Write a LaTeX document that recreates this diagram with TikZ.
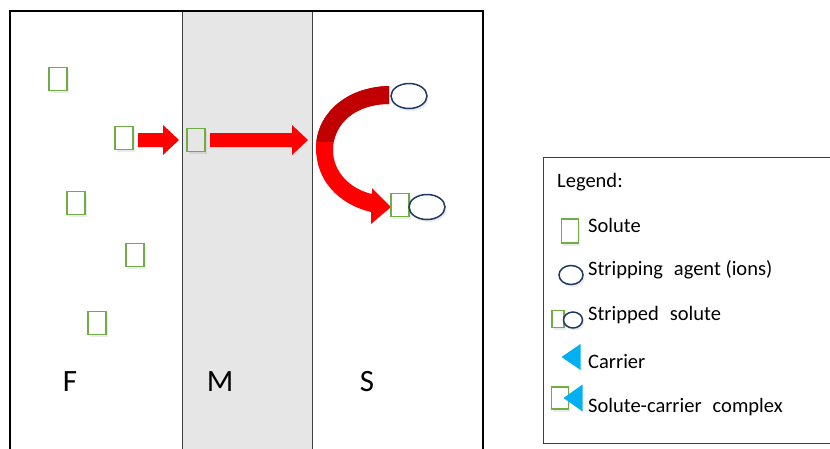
\documentclass[tikz,border=0pt]{standalone}
\usepackage{fontspec}
\setmainfont{Carlito}
\usetikzlibrary{shadows,shapes.geometric}
\definecolor{solutegreen}{HTML}{70AD47}
\definecolor{agentnavy}{HTML}{1F3864}
\definecolor{carrierblue}{HTML}{00B0F0}
\definecolor{membranegray}{HTML}{E6E6E6}
\definecolor{arrowred}{HTML}{FF0000}
\definecolor{arrowdark}{HTML}{C00000}
\definecolor{wallgray}{HTML}{404040}
% wide word gap used in the legend entries
\newcommand{\widegap}{\hspace{11pt}}

\begin{document}
\begin{tikzpicture}[x=1pt,y=-1pt,
  softshadow/.style={drop shadow={opacity=0.16,shadow xshift=1.5pt,shadow yshift=-2.5pt}},
  solute/.style={rectangle,draw=solutegreen,line width=1.3pt,fill=white,
    minimum width=18pt,minimum height=23pt,inner sep=0pt,softshadow},
  smallsolute/.style={solute,minimum width=12pt,minimum height=17pt},
  agent/.style={ellipse,draw=agentnavy,line width=1.5pt,fill=white,
    minimum width=36pt,minimum height=25pt,inner sep=0pt,softshadow},
  smallagent/.style={agent,minimum width=24pt,minimum height=19pt},
  tinyagent/.style={agent,minimum width=19pt,minimum height=16pt},
  carrier/.style={isosceles triangle,isosceles triangle stretches,
    shape border rotate=180,fill=carrierblue,draw=none,inner sep=0pt,
    minimum height=19pt,minimum width=26pt,anchor=apex},
  phase/.style={font=\fontsize{31}{36}\selectfont,inner sep=0pt},
  legendtext/.style={font=\fontsize{20.5}{24}\selectfont,anchor=west,inner sep=0pt},
  blockarrow/.style={fill=arrowred,draw=none}
]
\useasboundingbox (0,0) rectangle (830,448);
\clip (0,0) rectangle (830,448);

% membrane band and cell walls
\fill[membranegray] (182,11) rectangle (312,470);
\draw[wallgray,line width=1pt] (182,11) -- (182,470) (312,11) -- (312,470);
\draw[black,line width=1.5pt] (10,470) -- (10,11) -- (483,11) -- (483,470);

% phase labels
\node[phase] (F) at (70,382) {F};
\node[phase] (M) at (220,382) {M};
\node[phase] (S) at (367,382) {S};

% solutes in the feed phase
\node[solute] (s1) at (58,79) {};
\node[solute] (s2) at (124,138) {};
\node[solute] (s3) at (76,203) {};
\node[solute] (s4) at (135,255) {};
\node[solute] (s5) at (97,323) {};
% solute inside the membrane
\node[solute,fill=membranegray] (s6) at (196,140) {};

% straight transport arrows
\fill[blockarrow] (138,133) -- (163,133) -- (163,125) -- (179,140)
  -- (163,155) -- (163,147) -- (138,147) -- cycle;
\fill[blockarrow] (210,133) -- (292,133) -- (292,125) -- (308,140)
  -- (292,155) -- (292,147) -- (210,147) -- cycle;

% curved stripping arrow
\path[save path=\uturn]
  (389,86) .. controls (345,87) and (316,115) .. (316,148)
  .. controls (316,180) and (338,204) .. (371,212)
  -- (371,224) -- (391,207) -- (372,188) -- (372,194)
  .. controls (350,189) and (333,172) .. (333,150)
  .. controls (333,124) and (355,104) .. (389,104) -- cycle;
\fill[arrowred,use path=\uturn];
\begin{scope}
  \clip (300,70) rectangle (400,141);
  \fill[arrowdark,use path=\uturn];
\end{scope}

% stripping agent and stripped solute
\node[agent] (a1) at (409,96) {};
\node[solute] (c1) at (400,205) {};
\node[agent] (a2) at (427,207) {};

% legend
\draw[wallgray,line width=0.8pt] (840,157) -- (543,157) -- (543,443) -- (840,443);
\node[legendtext] (lg) at (557,182) {Legend:};

\node[solute,minimum width=17pt,minimum height=24pt] (ls) at (570,231) {};
\node[legendtext] (lst) at (588,225) {Solute};

\node[smallagent] (la) at (571,275) {};
\node[legendtext] (lat) at (588,270) {Stripping\widegap agent (ions)};

\node[smallsolute] (lcs) at (558,319) {};
\node[tinyagent] (lca) at (573,320) {};
\node[legendtext] (lct) at (588,315) {Stripped\widegap solute};

\node[carrier] (lk) at (561,357) {};
\node[legendtext] (lkt) at (588,362) {Carrier};

\node[solute,minimum width=17pt,minimum height=22pt] (lxs) at (560,398) {};
\node[carrier,minimum width=27pt] (lxk) at (563,398) {};
\node[legendtext] (lxt) at (588,407) {Solute-carrier\widegap complex};
\end{tikzpicture}
\end{document}
